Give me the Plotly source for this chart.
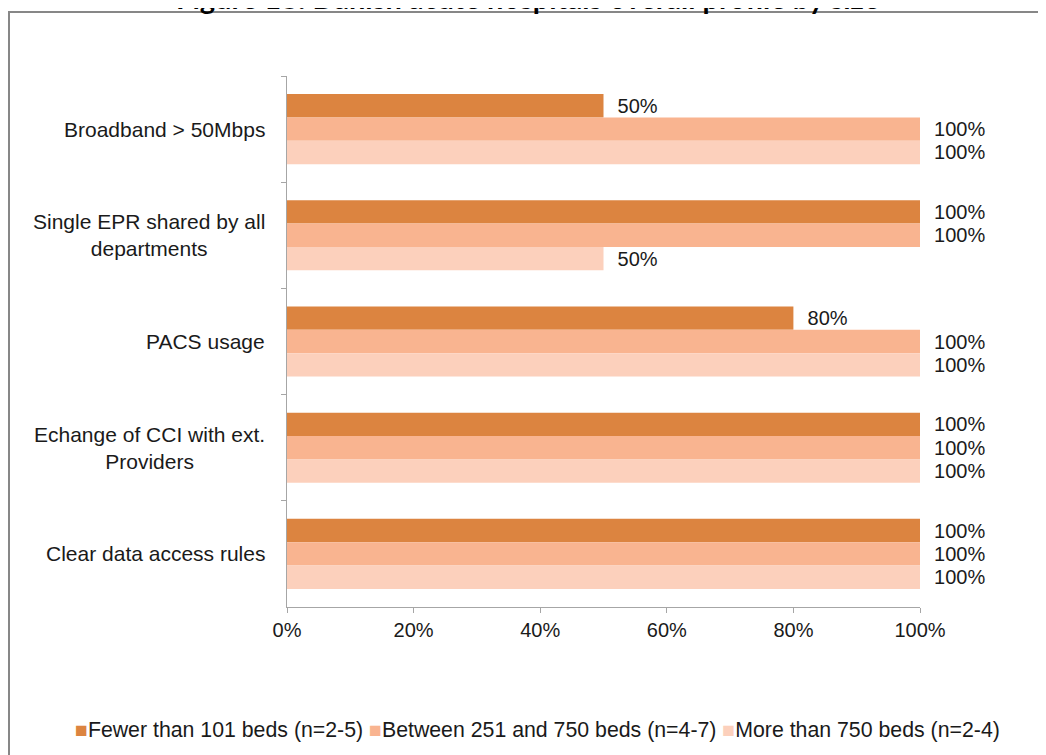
import plotly.graph_objects as go

# Chart data
categories = [
    'Broadband > 50Mbps',
    'Single EPR shared by all<br>departments',
    'PACS usage',
    'Echange of CCI with ext.<br>Providers',
    'Clear data access rules',
]
series_names = [
    'Fewer than 101 beds (n=2-5)',
    'Between 251 and 750 beds (n=4-7)',
    'More than 750 beds (n=2-4)',
]
fewer_101 = [0.50, 1.00, 0.80, 1.00, 1.00]
between_251_750 = [1.00, 1.00, 1.00, 1.00, 1.00]
more_750 = [1.00, 0.50, 1.00, 1.00, 1.00]

colors = ['#DC8440', '#F9B490', '#FCD0BC']
font_name = 'Liberation Sans, Arial, sans-serif'

# the page body adds an 8px margin, so the figure is drawn 8px smaller
# and every position below is given in page pixels minus that offset
OFF = 8
W, H = 1046 - OFF, 755 - OFF
L, T = 287 - OFF, 76 - OFF
R, B = W - (920 - OFF), H - (607 - OFF)
plot_w = W - L - R
plot_h = H - T - B


def px(x_page):
    return (x_page - OFF - L) / plot_w


def py(y_page):
    return (H - B - (y_page - OFF)) / plot_h


fig = go.Figure()

for name, vals, col in zip(series_names, [fewer_101, between_251_750, more_750], colors):
    fig.add_trace(go.Bar(
        y=categories,
        x=vals,
        name=name,
        orientation='h',
        marker=dict(color=col, line=dict(width=0)),
        texttemplate='  %{x:.0%}',
        textposition='outside',
        textfont=dict(size=20, color='#1a1a1a', family=font_name),
        cliponaxis=False,
        hoverinfo='x+name',
    ))

# Category labels, centred multi-line like the original
for cat in categories:
    fig.add_annotation(
        x=px(267), xref='paper',
        y=cat, yref='y',
        text=cat, showarrow=False,
        xanchor='right', yanchor='middle', align='center',
        font=dict(size=21, color='#1a1a1a', family=font_name),
    )

# Legend drawn as one line of text: small square + label for each series
legend_text = ' '.join(
    f'<span style="color:{c}">■</span>{n}' for n, c in zip(series_names, colors)
)
fig.add_annotation(
    x=px(537), xref='paper',
    y=py(730), yref='paper',
    text=legend_text, showarrow=False,
    xanchor='center', yanchor='middle',
    font=dict(size=21.3, color='#1a1a1a', family=font_name),
)

# Title, mostly cut off at the top edge as in the source image
fig.add_annotation(
    x=px(527), xref='paper',
    y=py(17), yref='paper',
    text='<b>Figure 18: Danish acute hospitals overall profile by size</b>',
    showarrow=False, xanchor='center', yanchor='bottom',
    font=dict(size=29, color='#000000', family='Lato, sans-serif'),
)

# Outer frame of the original chart box
fig.add_shape(
    type='rect', xref='paper', yref='paper', layer='below',
    x0=px(9), x1=px(1080),
    y0=py(790), y1=py(12),
    line=dict(color='#878787', width=2), fillcolor='rgba(0,0,0,0)',
)

fig.update_layout(
    width=W, height=H,
    margin=dict(l=L, r=R, t=T, b=B, autoexpand=False),
    paper_bgcolor='white', plot_bgcolor='white',
    barmode='group', bargap=0.34, bargroupgap=0,
    font=dict(family=font_name, size=20, color='#1a1a1a'),
    showlegend=False,
    xaxis=dict(
        range=[0, 1], dtick=0.2, tickformat='.0%',
        showgrid=False, zeroline=False,
        showline=True, linecolor='#a6a6a6', linewidth=1,
        ticks='outside', ticklen=5, tickcolor='#a6a6a6',
        tickfont=dict(size=20, color='#1a1a1a'),
        automargin=False,
    ),
    yaxis=dict(
        autorange='reversed', showticklabels=False,
        showgrid=False, zeroline=False,
        showline=True, linecolor='#a6a6a6', linewidth=1,
        ticks='outside', ticklen=5, tickcolor='#a6a6a6',
        tickson='boundaries', automargin=False,
    ),
)

fig.write_html('out.html')
